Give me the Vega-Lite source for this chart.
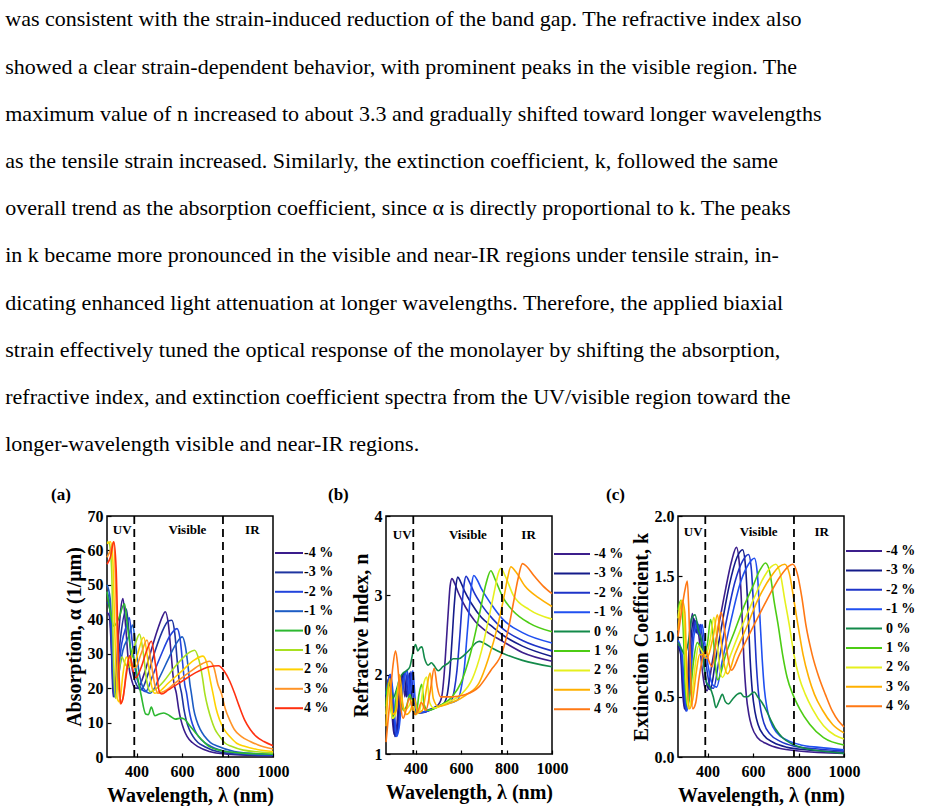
{
  "$schema": "https://vega.github.io/schema/vega-lite/v6.json",
  "background": "white",
  "padding": {"left": 5, "top": 8, "right": 0, "bottom": 0},
  "autosize": {"type": "pad"},
  "title": {
    "text": [
      "was consistent with the strain-induced reduction of the band gap. The refractive index also",
      "showed a clear strain-dependent behavior, with prominent peaks in the visible region. The",
      "maximum value of n increased to about 3.3 and gradually shifted toward longer wavelengths",
      "as the tensile strain increased.  Similarly, the extinction coefficient, k, followed the same",
      "overall trend as the absorption coefficient, since α is directly proportional to k. The peaks",
      "in k became more pronounced in the visible and near-IR regions under tensile strain, in-",
      "dicating enhanced light attenuation at longer wavelengths. Therefore, the applied biaxial",
      "strain effectively tuned the optical response of the monolayer by shifting the absorption,",
      "refractive index, and extinction coefficient spectra from the UV/visible region toward the",
      "longer-wavelength visible and near-IR regions."
    ],
    "anchor": "start", "frame": "bounds", "dx": -45, "offset": 29,
    "font": "Liberation Serif", "fontSize": 22, "fontWeight": "normal", "color": "black", "lineHeight": 47.2
  },
  "config": {
    "view": {"stroke": "black", "strokeWidth": 1.5},
    "axis": {
      "labelFont": "Liberation Serif", "labelFontSize": 16, "labelFontWeight": "bold", "labelColor": "black",
      "titleFont": "Liberation Serif", "titleFontSize": 20, "titleFontWeight": "bold", "titleColor": "black",
      "domain": false, "grid": false, "ticks": true, "tickColor": "black", "tickSize": -4, "tickWidth": 1.2,
      "labelOverlap": false, "labelFlush": false, "labelSeparation": 0, "labelLineHeight": 16
    },
    "axisX": {"labelPadding": 10, "titlePadding": 6},
    "axisY": {"labelPadding": 8, "titlePadding": 3, "labelOverlap": false},
    "legend": {
      "labelFont": "Liberation Serif", "labelFontSize": 14, "labelFontWeight": "bold", "labelColor": "black",
      "symbolStrokeWidth": 2, "rowPadding": 5.4, "padding": 0, "symbolSize": 100
    }
  },
  "spacing": -8,
  "resolve": {"scale": {"color": "independent"}, "legend": {"color": "independent"}},
  "hconcat": [
    {
      "width": 166, "height": 241,
      "title": {"text": "(a)", "anchor": "start", "frame": "bounds", "dx": -13, "offset": 4, "font": "Liberation Serif", "fontSize": 17, "fontWeight": "bold", "color": "black"},
      "layer": [
        {
          "data": {"values": "s,w,v\n-4,270,42\n-4,280,41\n-4,290,30\n-4,297,17.5\n-4,305,20\n-4,320,35\n-4,340,46\n-4,352,38\n-4,365,27\n-4,380,22\n-4,395,20\n-4,405,20\n-4,430,23.5\n-4,460,30\n-4,490,36.5\n-4,515,41\n-4,526,42.2\n-4,540,38.5\n-4,552,30\n-4,563,22\n-4,575,18.5\n-4,585,14\n-4,595,10.8\n-4,608,8\n-4,622,6\n-4,645,4.2\n-4,670,3\n-4,720,1.6\n-4,800,0.8\n-4,900,0.5\n-4,1000,0.4\n-3,270,45\n-3,282,43\n-3,292,28\n-3,300,17.5\n-3,310,21\n-3,330,35\n-3,355,43\n-3,367,36\n-3,380,26\n-3,400,21\n-3,420,19.5\n-3,450,24\n-3,480,30.5\n-3,510,36\n-3,540,39.5\n-3,555,39.7\n-3,568,36\n-3,580,27\n-3,590,21\n-3,598,18.5\n-3,608,14\n-3,618,10.8\n-3,632,8\n-3,648,6\n-3,670,4.2\n-3,700,3\n-3,760,1.5\n-3,850,0.8\n-3,1000,0.5\n-2,270,48\n-2,283,44\n-2,293,30\n-2,302,17.5\n-2,312,21\n-2,335,33\n-2,355,38\n-2,368,40.5\n-2,380,34\n-2,395,25\n-2,415,20.5\n-2,440,19\n-2,470,23.5\n-2,510,30\n-2,545,35\n-2,578,37.3\n-2,592,34\n-2,603,27\n-2,612,21\n-2,620,18.5\n-2,630,14\n-2,640,10.8\n-2,655,8\n-2,672,6\n-2,700,4.2\n-2,730,3\n-2,800,1.5\n-2,900,0.8\n-2,1000,0.6\n-1,270,50\n-1,284,46\n-1,295,32\n-1,304,17.5\n-1,314,21\n-1,340,31\n-1,365,35\n-1,383,38.3\n-1,395,33\n-1,410,25\n-1,430,20\n-1,460,18.5\n-1,500,23\n-1,540,28.5\n-1,575,33\n-1,601,34.9\n-1,615,32\n-1,627,26\n-1,635,21\n-1,641,18.5\n-1,651,14\n-1,663,10.8\n-1,680,8\n-1,699,6\n-1,725,4.2\n-1,758,3.1\n-1,830,1.6\n-1,920,1\n-1,1000,0.8\n0,270,48\n0,285,42\n0,300,38\n0,320,40\n0,347,44.5\n0,360,38\n0,375,31\n0,390,28\n0,405,23\n0,420,18\n0,440,12.5\n0,452,12.3\n0,465,14.5\n0,480,12\n0,500,12.5\n0,520,12.8\n0,545,12\n0,570,11\n0,595,11.3\n0,610,11\n0,635,9\n0,660,7\n0,690,4.8\n0,720,3\n0,770,1.9\n0,850,1.2\n0,1000,0.8\n1,270,62.5\n1,280,62\n1,290,55\n1,300,25\n1,308,17\n1,318,22\n1,335,29\n1,350,27\n1,365,26\n1,380,30\n1,395,33\n1,413,35.7\n1,430,30\n1,445,22\n1,460,19\n1,480,19.5\n1,520,22\n1,560,25.5\n1,600,28.5\n1,635,30.5\n1,655,31\n1,675,28\n1,690,23\n1,700,18.5\n1,715,14\n1,729,10.8\n1,745,8\n1,765,6\n1,790,4\n1,817,3.1\n1,870,2\n1,1000,1.2\n2,270,62\n2,285,62.5\n2,295,58\n2,305,35\n2,315,17\n2,325,16\n2,340,24\n2,355,29\n2,370,27\n2,385,26\n2,405,30\n2,431,34.8\n2,450,28\n2,465,21\n2,480,18.5\n2,500,19\n2,540,21.5\n2,600,25\n2,650,28\n2,692,29.3\n2,710,27\n2,725,22\n2,736,18.5\n2,750,14\n2,765,10.8\n2,785,8\n2,809,6\n2,840,4\n2,875,3.1\n2,930,2.2\n2,1000,1.6\n3,270,58\n3,285,60\n3,300,62.5\n3,308,50\n3,318,25\n3,328,15.5\n3,340,17\n3,355,25\n3,368,29\n3,380,27\n3,395,26\n3,420,30\n3,446,34\n3,465,27\n3,480,21\n3,495,18.5\n3,520,19\n3,570,21.5\n3,630,24.5\n3,680,26.8\n3,721,27.8\n3,740,26\n3,758,21\n3,773,18.5\n3,790,14\n3,809,10.8\n3,830,8\n3,860,6\n3,900,4.5\n3,935,3.5\n3,1000,2.3\n4,270,56\n4,285,58\n4,300,62.5\n4,310,55\n4,320,30\n4,330,15.5\n4,340,17\n4,355,24\n4,370,29.5\n4,385,25\n4,397,23\n4,420,26\n4,445,31\n4,465,33.6\n4,485,26\n4,500,19\n4,510,18.3\n4,540,19.5\n4,600,22\n4,660,24.5\n4,720,26.2\n4,760,26.5\n4,785,25\n4,810,22\n4,831,18.5\n4,850,15\n4,875,10.8\n4,900,8\n4,926,6\n4,960,4.5\n4,1000,3.3", "format": {"type": "csv", "parse": {"s": "number", "w": "number", "v": "number"}}},
          "mark": {"type": "line", "strokeWidth": 1.6, "interpolate": "monotone"},
          "encoding": {
            "x": {"field": "w", "type": "quantitative", "scale": {"domain": [270, 1000], "nice": false, "zero": false}, "axis": {"values": [400, 600, 800, 1000], "format": "d", "title": "Wavelength, λ (nm)"}},
            "y": {"field": "v", "type": "quantitative", "scale": {"domain": [0, 70], "nice": false}, "axis": {"values": [0, 10, 20, 30, 40, 50, 60, 70], "format": "d", "labelOverlap": false, "title": "Absorption, α (1/μm)"}},
            "color": {"field": "s", "type": "nominal",
              "scale": {"domain": [-4, -3, -2, -1, 0, 1, 2, 3, 4], "range": ["#3a1c8c", "#1f35a0", "#2244dc", "#1c5cc4", "#2cb830", "#a8e020", "#ffd200", "#ff9428", "#ff3010"]},
              "legend": {"title": null, "orient": "none", "legendX": 175, "legendY": 30, "symbolType": "M-2.8,0H2.8", "labelOffset": 8, "labelExpr": "(datum.value < 0 ? '' : '\u2004') + datum.value + ' %'"}}
          }
        },
        {
          "data": {"values": [{"w": 390}, {"w": 780}]},
          "mark": {"type": "rule", "color": "black", "strokeWidth": 1.8, "strokeDash": [8, 5]},
          "encoding": {"x": {"field": "w", "type": "quantitative", "axis": {"values": [400, 600, 800, 1000], "format": "d", "title": "Wavelength, λ (nm)"}}}
        },
        {
          "data": {"values": [{"t": "UV", "w": 337, "v": 66.0}, {"t": "Visible", "w": 624, "v": 66.0}, {"t": "IR", "w": 909, "v": 66.0}]},
          "mark": {"type": "text", "font": "Liberation Serif", "fontSize": 13, "fontWeight": "bold", "color": "black", "baseline": "middle"},
          "encoding": {
            "x": {"field": "w", "type": "quantitative", "axis": {"values": [400, 600, 800, 1000], "format": "d", "title": "Wavelength, λ (nm)"}},
            "y": {"field": "v", "type": "quantitative", "axis": {"values": [0, 10, 20, 30, 40, 50, 60, 70], "format": "d", "labelOverlap": false, "title": "Absorption, α (1/μm)"}},
            "text": {"field": "t"}}
        }
      ]
    },
    {
      "spacing": -20,
      "resolve": {"scale": {"color": "independent"}, "legend": {"color": "independent"}},
      "hconcat": [
        {
          "width": 166, "height": 238,
          "title": {"text": "(b)", "anchor": "start", "frame": "bounds", "dx": -23, "offset": 4, "font": "Liberation Serif", "fontSize": 17, "fontWeight": "bold", "color": "black"},
          "layer": [
            {
              "data": {"values": "s,w,v\n-4,270,1.7\n-4,282,1.95\n-4,292,1.7\n-4,305,1.25\n-4,315,1.3\n-4,330,1.85\n-4,343,2.0\n-4,353,1.72\n-4,365,2.0\n-4,375,1.75\n-4,390,1.53\n-4,420,1.52\n-4,460,1.56\n-4,500,1.62\n-4,515,1.72\n-4,525,1.98\n-4,535,2.4\n-4,545,2.85\n-4,552,3.12\n-4,560,3.21\n-4,572,3.15\n-4,590,3.02\n-4,620,2.85\n-4,660,2.68\n-4,710,2.55\n-4,783,2.42\n-4,870,2.28\n-4,1000,2.17\n-3,270,1.72\n-3,285,1.98\n-3,296,1.7\n-3,309,1.22\n-3,319,1.3\n-3,336,1.88\n-3,350,2.02\n-3,360,1.72\n-3,373,2.02\n-3,383,1.72\n-3,398,1.52\n-3,430,1.52\n-3,480,1.58\n-3,525,1.64\n-3,540,1.76\n-3,550,2.0\n-3,560,2.42\n-3,570,2.87\n-3,578,3.13\n-3,586,3.23\n-3,598,3.17\n-3,616,3.05\n-3,645,2.9\n-3,690,2.72\n-3,740,2.6\n-3,783,2.5\n-3,870,2.36\n-3,1000,2.23\n-2,270,1.74\n-2,288,2.0\n-2,300,1.7\n-2,313,1.22\n-2,323,1.3\n-2,342,1.9\n-2,357,2.03\n-2,367,1.72\n-2,380,2.04\n-2,390,1.72\n-2,405,1.52\n-2,440,1.53\n-2,500,1.6\n-2,555,1.66\n-2,570,1.8\n-2,582,2.05\n-2,595,2.5\n-2,605,2.9\n-2,614,3.15\n-2,622,3.24\n-2,635,3.18\n-2,655,3.05\n-2,690,2.88\n-2,740,2.7\n-2,783,2.58\n-2,870,2.43\n-2,1000,2.3\n-1,270,1.76\n-1,290,2.0\n-1,303,1.7\n-1,317,1.22\n-1,327,1.32\n-1,348,1.92\n-1,364,2.05\n-1,374,1.72\n-1,388,2.05\n-1,398,1.7\n-1,412,1.52\n-1,450,1.54\n-1,520,1.62\n-1,585,1.68\n-1,600,1.82\n-1,615,2.1\n-1,628,2.55\n-1,640,2.95\n-1,648,3.16\n-1,656,3.25\n-1,670,3.2\n-1,690,3.08\n-1,730,2.9\n-1,783,2.7\n-1,870,2.53\n-1,1000,2.4\n0,270,1.75\n0,285,1.9\n0,300,1.7\n0,315,1.8\n0,330,1.95\n0,345,2.02\n0,360,2.05\n0,375,2.1\n0,390,2.3\n0,400,2.38\n0,410,2.3\n0,420,2.34\n0,428,2.35\n0,440,2.2\n0,455,2.12\n0,470,2.15\n0,480,2.12\n0,500,2.05\n0,520,2.1\n0,545,2.15\n0,565,2.2\n0,590,2.2\n0,615,2.25\n0,640,2.32\n0,665,2.4\n0,680,2.42\n0,700,2.4\n0,740,2.33\n0,783,2.27\n0,870,2.18\n0,1000,2.1\n1,270,1.6\n1,280,1.9\n1,292,1.55\n1,305,1.45\n1,318,1.8\n1,330,1.85\n1,345,1.55\n1,360,1.6\n1,375,1.75\n1,390,1.55\n1,402,1.5\n1,415,1.75\n1,427,1.88\n1,438,1.62\n1,455,1.55\n1,500,1.6\n1,560,1.72\n1,600,1.9\n1,640,2.25\n1,680,2.75\n1,710,3.15\n1,731,3.31\n1,750,3.2\n1,783,2.98\n1,830,2.8\n1,900,2.65\n1,1000,2.54\n2,270,1.5\n2,283,1.85\n2,297,1.45\n2,312,1.5\n2,325,1.9\n2,338,1.7\n2,352,1.55\n2,370,1.6\n2,385,1.68\n2,400,1.5\n2,418,1.55\n2,437,1.9\n2,449,1.97\n2,462,1.65\n2,480,1.58\n2,540,1.65\n2,600,1.75\n2,650,1.95\n2,690,2.3\n2,725,2.75\n2,750,3.1\n2,763,3.27\n2,775,3.34\n2,795,3.24\n2,830,3.0\n2,900,2.82\n2,1000,2.7\n3,270,1.35\n3,287,1.95\n3,300,1.5\n3,315,1.55\n3,330,2.0\n3,345,1.6\n3,360,1.5\n3,378,1.55\n3,395,1.7\n3,410,1.52\n3,430,1.55\n3,450,1.85\n3,464,2.02\n3,478,1.7\n3,500,1.6\n3,560,1.65\n3,620,1.74\n3,680,1.9\n3,720,2.2\n3,760,2.6\n3,790,3.0\n3,805,3.22\n3,819,3.36\n3,840,3.3\n3,880,3.12\n3,940,2.97\n3,1000,2.86\n4,270,1.15\n4,285,1.6\n4,300,2.1\n4,312,2.3\n4,322,2.1\n4,335,1.6\n4,345,1.45\n4,358,1.55\n4,372,1.7\n4,385,1.6\n4,398,1.5\n4,412,1.55\n4,425,1.65\n4,445,1.55\n4,465,1.8\n4,482,2.08\n4,495,1.85\n4,510,1.72\n4,560,1.72\n4,620,1.75\n4,680,1.85\n4,730,2.05\n4,783,2.3\n4,810,2.6\n4,830,2.9\n4,850,3.2\n4,870,3.4\n4,890,3.36\n4,920,3.25\n4,960,3.12\n4,1000,3.02", "format": {"type": "csv", "parse": {"s": "number", "w": "number", "v": "number"}}},
              "mark": {"type": "line", "strokeWidth": 1.6, "interpolate": "monotone"},
              "encoding": {
                "x": {"field": "w", "type": "quantitative", "scale": {"domain": [270, 1000], "nice": false, "zero": false}, "axis": {"values": [400, 600, 800, 1000], "format": "d", "title": "Wavelength, λ (nm)"}},
                "y": {"field": "v", "type": "quantitative", "scale": {"domain": [1, 4], "nice": false, "zero": false}, "axis": {"values": [1, 2, 3, 4], "format": "d", "labelOverlap": false, "title": "Refractive Index, n"}},
                "color": {"field": "s", "type": "nominal",
                  "scale": {"domain": [-4, -3, -2, -1, 0, 1, 2, 3, 4], "range": ["#3c1e8c", "#141b8a", "#1e34c8", "#2050f0", "#138a4a", "#4ccc14", "#e6f01e", "#ffb000", "#ff7814"]},
                  "legend": {"title": null, "orient": "none", "legendX": 179, "legendY": 31, "symbolType": "M-3.6,0H3.6", "labelOffset": 15, "labelExpr": "(datum.value < 0 ? '' : '\u2004') + datum.value + ' %'"}}
              }
            },
            {
              "data": {"values": [{"w": 390}, {"w": 780}]},
              "mark": {"type": "rule", "color": "black", "strokeWidth": 1.8, "strokeDash": [8, 5]},
              "encoding": {"x": {"field": "w", "type": "quantitative", "axis": {"values": [400, 600, 800, 1000], "format": "d", "title": "Wavelength, λ (nm)"}}}
            },
            {
              "data": {"values": [{"t": "UV", "w": 341, "v": 3.76}, {"t": "Visible", "w": 630, "v": 3.76}, {"t": "IR", "w": 897, "v": 3.76}]},
              "mark": {"type": "text", "font": "Liberation Serif", "fontSize": 13, "fontWeight": "bold", "color": "black", "baseline": "middle"},
              "encoding": {
                "x": {"field": "w", "type": "quantitative", "axis": {"values": [400, 600, 800, 1000], "format": "d", "title": "Wavelength, λ (nm)"}},
                "y": {"field": "v", "type": "quantitative", "axis": {"values": [1, 2, 3, 4], "format": "d", "labelOverlap": false, "title": "Refractive Index, n"}},
                "text": {"field": "t"}}
            }
          ]
        },
        {
          "width": 166, "height": 241,
          "title": {"text": "(c)", "anchor": "start", "frame": "bounds", "dx": -25, "offset": 4, "font": "Liberation Serif", "fontSize": 17, "fontWeight": "bold", "color": "black"},
          "layer": [
            {
              "data": {"values": "s,w,v\n-4,270,0.9\n-4,280,0.88\n-4,290,0.55\n-4,298,0.4\n-4,308,0.5\n-4,322,1.0\n-4,333,1.19\n-4,343,1.05\n-4,352,1.12\n-4,362,1.0\n-4,375,0.75\n-4,388,0.58\n-4,398,0.55\n-4,420,0.78\n-4,450,1.1\n-4,480,1.4\n-4,505,1.62\n-4,527,1.74\n-4,540,1.6\n-4,550,1.25\n-4,560,0.8\n-4,570,0.52\n-4,582,0.35\n-4,595,0.25\n-4,620,0.16\n-4,660,0.11\n-4,720,0.07\n-4,800,0.05\n-4,1000,0.03\n-3,270,0.92\n-3,283,0.85\n-3,293,0.55\n-3,302,0.39\n-3,312,0.5\n-3,328,1.0\n-3,340,1.15\n-3,350,1.03\n-3,360,1.1\n-3,370,0.98\n-3,385,0.75\n-3,400,0.58\n-3,412,0.56\n-3,435,0.8\n-3,465,1.12\n-3,495,1.42\n-3,530,1.66\n-3,554,1.72\n-3,567,1.58\n-3,577,1.25\n-3,587,0.82\n-3,597,0.54\n-3,609,0.37\n-3,622,0.27\n-3,647,0.18\n-3,690,0.12\n-3,750,0.08\n-3,830,0.06\n-3,1000,0.04\n-2,270,0.95\n-2,285,0.85\n-2,296,0.55\n-2,305,0.38\n-2,316,0.5\n-2,334,1.0\n-2,348,1.13\n-2,358,1.02\n-2,368,1.1\n-2,378,0.98\n-2,395,0.75\n-2,412,0.58\n-2,426,0.57\n-2,450,0.8\n-2,485,1.15\n-2,520,1.45\n-2,555,1.63\n-2,580,1.68\n-2,593,1.55\n-2,603,1.22\n-2,613,0.82\n-2,623,0.55\n-2,635,0.38\n-2,648,0.28\n-2,675,0.19\n-2,720,0.13\n-2,780,0.09\n-2,860,0.07\n-2,1000,0.05\n-1,270,0.97\n-1,288,0.85\n-1,299,0.55\n-1,309,0.38\n-1,320,0.52\n-1,340,1.0\n-1,355,1.12\n-1,365,1.02\n-1,376,1.1\n-1,386,0.97\n-1,403,0.75\n-1,422,0.6\n-1,440,0.58\n-1,465,0.8\n-1,505,1.15\n-1,545,1.45\n-1,580,1.6\n-1,606,1.65\n-1,619,1.52\n-1,629,1.2\n-1,640,0.82\n-1,650,0.56\n-1,662,0.4\n-1,676,0.3\n-1,705,0.2\n-1,750,0.14\n-1,810,0.1\n-1,890,0.08\n-1,1000,0.06\n0,270,0.95\n0,285,0.9\n0,300,0.85\n0,315,0.95\n0,330,1.15\n0,345,1.18\n0,360,1.05\n0,375,0.95\n0,385,0.75\n0,395,0.62\n0,410,0.58\n0,425,0.5\n0,437,0.41\n0,452,0.47\n0,465,0.52\n0,478,0.46\n0,492,0.44\n0,510,0.48\n0,530,0.52\n0,545,0.53\n0,560,0.5\n0,575,0.5\n0,590,0.52\n0,605,0.54\n0,620,0.5\n0,640,0.45\n0,660,0.38\n0,680,0.3\n0,700,0.23\n0,730,0.16\n0,770,0.11\n0,830,0.07\n0,900,0.05\n0,1000,0.03\n1,270,1.22\n1,282,1.3\n1,292,1.1\n1,302,0.6\n1,312,0.42\n1,325,0.55\n1,340,0.82\n1,355,0.95\n1,370,0.9\n1,385,0.85\n1,400,0.95\n1,413,1.14\n1,425,1.0\n1,435,0.75\n1,445,0.64\n1,480,0.85\n1,520,1.05\n1,560,1.25\n1,600,1.42\n1,630,1.55\n1,655,1.61\n1,675,1.52\n1,692,1.3\n1,710,1.1\n1,730,0.85\n1,750,0.66\n1,775,0.52\n1,805,0.4\n1,850,0.27\n1,910,0.16\n1,1000,0.1\n2,270,1.15\n2,285,1.3\n2,296,1.15\n2,306,0.6\n2,316,0.4\n2,330,0.5\n2,345,0.75\n2,360,0.92\n2,375,0.88\n2,390,0.84\n2,412,0.98\n2,428,1.16\n2,440,1.0\n2,452,0.76\n2,465,0.66\n2,500,0.84\n2,550,1.08\n2,600,1.3\n2,650,1.5\n2,680,1.58\n2,700,1.6\n2,720,1.52\n2,740,1.3\n2,759,1.1\n2,780,0.85\n2,803,0.66\n2,830,0.52\n2,861,0.4\n2,910,0.26\n2,960,0.18\n2,1000,0.15\n3,270,1.05\n3,288,1.3\n3,300,1.2\n3,310,0.65\n3,320,0.4\n3,335,0.48\n3,350,0.7\n3,365,0.85\n3,380,0.85\n3,395,0.82\n3,425,1.0\n3,443,1.18\n3,456,1.02\n3,470,0.8\n3,488,0.69\n3,520,0.85\n3,570,1.07\n3,620,1.3\n3,680,1.5\n3,715,1.58\n3,740,1.6\n3,760,1.52\n3,780,1.3\n3,797,1.1\n3,820,0.85\n3,845,0.66\n3,870,0.52\n3,905,0.39\n3,950,0.27\n3,1000,0.2\n4,270,1.0\n4,285,1.2\n4,300,1.38\n4,311,1.46\n4,318,1.2\n4,326,0.65\n4,335,0.4\n4,348,0.45\n4,362,0.65\n4,378,0.82\n4,393,0.88\n4,405,0.8\n4,420,0.75\n4,440,1.0\n4,460,1.2\n4,475,1.05\n4,490,0.82\n4,505,0.72\n4,540,0.85\n4,600,1.08\n4,660,1.3\n4,720,1.5\n4,755,1.58\n4,775,1.6\n4,795,1.52\n4,815,1.32\n4,832,1.1\n4,860,0.85\n4,890,0.66\n4,918,0.52\n4,949,0.38\n4,975,0.3\n4,1000,0.25", "format": {"type": "csv", "parse": {"s": "number", "w": "number", "v": "number"}}},
              "mark": {"type": "line", "strokeWidth": 1.6, "interpolate": "monotone"},
              "encoding": {
                "x": {"field": "w", "type": "quantitative", "scale": {"domain": [270, 1000], "nice": false, "zero": false}, "axis": {"values": [400, 600, 800, 1000], "format": "d", "title": "Wavelength, λ (nm)"}},
                "y": {"field": "v", "type": "quantitative", "scale": {"domain": [0, 2], "nice": false}, "axis": {"values": [0, 0.5, 1, 1.5, 2], "format": ".1f", "labelOverlap": false, "title": "Extinction Coefficient, k"}},
                "color": {"field": "s", "type": "nominal",
                  "scale": {"domain": [-4, -3, -2, -1, 0, 1, 2, 3, 4], "range": ["#3c1e8c", "#141b8a", "#1e34c8", "#2050f0", "#138a4a", "#4ccc14", "#e6f01e", "#ffb000", "#ff7814"]},
                  "legend": {"title": null, "orient": "none", "legendX": 179, "legendY": 28, "symbolType": "M-3.6,0H3.6", "labelOffset": 15, "labelExpr": "(datum.value < 0 ? '' : '\u2004') + datum.value + ' %'"}}
              }
            },
            {
              "data": {"values": [{"w": 390}, {"w": 780}]},
              "mark": {"type": "rule", "color": "black", "strokeWidth": 1.8, "strokeDash": [8, 5]},
              "encoding": {"x": {"field": "w", "type": "quantitative", "axis": {"values": [400, 600, 800, 1000], "format": "d", "title": "Wavelength, λ (nm)"}}}
            },
            {
              "data": {"values": [{"t": "UV", "w": 337, "v": 1.864}, {"t": "Visible", "w": 625, "v": 1.864}, {"t": "IR", "w": 902, "v": 1.864}]},
              "mark": {"type": "text", "font": "Liberation Serif", "fontSize": 13, "fontWeight": "bold", "color": "black", "baseline": "middle"},
              "encoding": {
                "x": {"field": "w", "type": "quantitative", "axis": {"values": [400, 600, 800, 1000], "format": "d", "title": "Wavelength, λ (nm)"}},
                "y": {"field": "v", "type": "quantitative", "axis": {"values": [0, 0.5, 1, 1.5, 2], "format": ".1f", "labelOverlap": false, "title": "Extinction Coefficient, k"}},
                "text": {"field": "t"}}
            }
          ]
        }
      ]
    }
  ]
}
